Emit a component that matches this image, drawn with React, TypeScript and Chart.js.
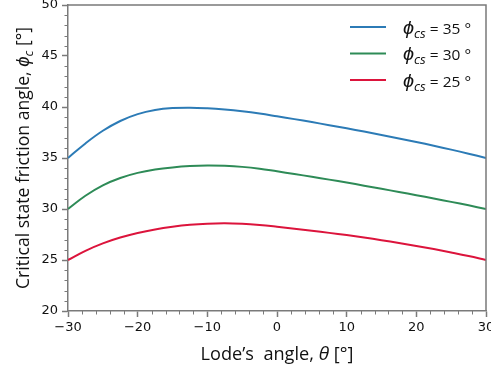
import React, { useEffect, useRef } from "react";
import { Chart, registerables } from "chart.js";

Chart.register(...registerables);

// Lode's angle (degrees)
const thetaDeg = [-30, -27.5, -25, -22.5, -20, -17.5, -15, -12.5, -10, -7.5, -5, -2.5, 0, 2.5, 5, 7.5, 10, 12.5, 15, 17.5, 20, 22.5, 25, 27.5, 30];
// Critical state friction angle (degrees)
const phiCs35 = [35.0, 36.43, 37.67, 38.63, 39.3, 39.7, 39.89, 39.93, 39.87, 39.75, 39.58, 39.36, 39.09, 38.81, 38.52, 38.22, 37.91, 37.59, 37.26, 36.92, 36.57, 36.2, 35.82, 35.42, 35.0];
const phiCs30 = [30.0, 31.3, 32.32, 33.04, 33.54, 33.87, 34.08, 34.21, 34.26, 34.23, 34.13, 33.95, 33.69, 33.43, 33.16, 32.88, 32.59, 32.29, 31.98, 31.67, 31.35, 31.03, 30.7, 30.36, 30.0];
const phiCs25 = [25.0, 25.9, 26.63, 27.2, 27.65, 28.0, 28.26, 28.45, 28.56, 28.6, 28.55, 28.43, 28.26, 28.07, 27.87, 27.66, 27.44, 27.2, 26.94, 26.67, 26.38, 26.07, 25.74, 25.39, 25.0];

const seriesValues = [phiCs35, phiCs30, phiCs25];
const seriesNames = ["35", "30", "25"];
const seriesColors = ["#2c7bb6", "#2e8b57", "#dc143c"];

const xMin = -30, xMax = 30, xStep = 10, xMinorStep = 2;
const yMin = 20, yMax = 50, yStep = 5, yMinorStep = 1;

const AXIS_COLOR = "#7a7a7a";
const TEXT_COLOR = "#111111";
const TICK_FONT = "DejaVu Sans";
const TITLE_FONT = '"Open Sans", sans-serif';

type Run = { t: string; f: string; dy?: number };

function drawRuns(ctx: CanvasRenderingContext2D, runs: Run[], x: number, y: number, align: "left" | "center", targetW?: number) {
  ctx.save();
  let w = 0;
  const ws = runs.map((r) => {
    ctx.font = r.f;
    const m = ctx.measureText(r.t).width;
    w += m;
    return m;
  });
  ctx.translate(x, y);
  if (targetW) ctx.scale(targetW / w, 1);
  let cx = align === "center" ? -w / 2 : 0;
  ctx.textAlign = "left";
  ctx.textBaseline = "alphabetic";
  ctx.fillStyle = TEXT_COLOR;
  runs.forEach((r, i) => {
    ctx.font = r.f;
    ctx.fillText(r.t, cx, r.dy || 0);
    cx += ws[i];
  });
  ctx.restore();
}

const overlayPlugin = {
  id: "overlay",
  afterDraw(chart: any) {
    const ctx: CanvasRenderingContext2D = chart.ctx;
    const { left, right, top, bottom } = chart.chartArea;
    const xs = chart.scales.x;
    const ys = chart.scales.y;
    ctx.save();
    // top & right frame
    ctx.strokeStyle = AXIS_COLOR;
    ctx.lineWidth = 1.5;
    ctx.beginPath();
    ctx.moveTo(left, top);
    ctx.lineTo(right, top);
    ctx.lineTo(right, bottom);
    ctx.stroke();
    // minor ticks
    ctx.lineWidth = 1;
    ctx.beginPath();
    for (let v = yMin; v <= yMax; v += yMinorStep) {
      if (v % yStep === 0) continue;
      const p = Math.round(ys.getPixelForValue(v)) + 0.5;
      ctx.moveTo(left - 3.5, p);
      ctx.lineTo(left, p);
    }
    for (let v = xMin; v <= xMax; v += xMinorStep) {
      if (v % xStep === 0) continue;
      const p = Math.round(xs.getPixelForValue(v)) + 0.5;
      ctx.moveTo(p, bottom);
      ctx.lineTo(p, bottom + 3.5);
    }
    ctx.stroke();
    ctx.restore();

    // x title
    drawRuns(
      ctx,
      [
        { t: "Lode\u2019s  angle, ", f: `18px ${TITLE_FONT}` },
        { t: "\u03B8", f: `italic 19px ${TITLE_FONT}` },
        { t: " [\u00B0]", f: `18px ${TITLE_FONT}` },
      ],
      (left + right) / 2,
      360,
      "center",
      153
    );

    // y title
    ctx.save();
    ctx.translate(29, (top + bottom) / 2);
    ctx.rotate(-Math.PI / 2);
    drawRuns(
      ctx,
      [
        { t: "Critical state friction angle, ", f: `18px ${TITLE_FONT}` },
        { t: "\u03D5", f: `italic 19px ${TITLE_FONT}` },
        { t: "c", f: `italic 13px ${TITLE_FONT}`, dy: 4 },
        { t: " [\u00B0]", f: `18px ${TITLE_FONT}` },
      ],
      0,
      0,
      "center",
      262
    );
    ctx.restore();

    // legend
    seriesNames.forEach((name, i) => {
      const ly = top + 22 + i * 26.5;
      ctx.save();
      ctx.strokeStyle = seriesColors[i];
      ctx.lineWidth = 2;
      ctx.beginPath();
      ctx.moveTo(right - 136, ly);
      ctx.lineTo(right - 100, ly);
      ctx.stroke();
      ctx.restore();
      drawRuns(
        ctx,
        [
          { t: "\u03D5", f: `italic 18px ${TITLE_FONT}` },
          { t: "cs", f: `italic 12px ${TITLE_FONT}`, dy: 4 },
          { t: ` = ${name} \u00B0`, f: `14px ${TITLE_FONT}` },
        ],
        right - 83,
        ly + 6.5,
        "left",
        68
      );
    });
  },
};

const fmt = (v: any) => {
  const n = Number(v);
  return n < 0 ? "\u2212" + Math.abs(n) : String(n);
};

export default function App() {
  const ref = useRef<HTMLCanvasElement | null>(null);
  useEffect(() => {
    document.body.style.margin = "0";
    if (!ref.current) return;
    const chart = new Chart(ref.current, {
      type: "line",
      data: {
        datasets: seriesValues.map((vals, i) => ({
          label: seriesNames[i],
          data: thetaDeg.map((t, j) => ({ x: t, y: vals[j] })),
          borderColor: seriesColors[i],
          backgroundColor: seriesColors[i],
          borderWidth: 2,
          pointRadius: 0,
          fill: false,
          tension: 0.4,
        })),
      },
      options: {
        responsive: false,
        animation: false,
        devicePixelRatio: 1,
        layout: { padding: { top: 5, right: 5, left: 0, bottom: 0 } },
        plugins: { legend: { display: false }, tooltip: { enabled: false } },
        scales: {
          x: {
            type: "linear",
            min: xMin,
            max: xMax,
            ticks: {
              stepSize: xStep,
              color: TEXT_COLOR,
              font: { family: TICK_FONT, size: 13 },
              padding: 3,
              maxRotation: 0,
              callback: fmt,
            },
            grid: { drawOnChartArea: false, tickLength: 6, tickColor: AXIS_COLOR, tickWidth: 1.5 },
            border: { color: AXIS_COLOR, width: 1.5 },
            afterFit: (s: any) => {
              s.height = 63;
              s.paddingLeft = 0;
              s.paddingRight = 0;
            },
          },
          y: {
            type: "linear",
            min: yMin,
            max: yMax,
            ticks: {
              stepSize: yStep,
              color: TEXT_COLOR,
              font: { family: TICK_FONT, size: 13 },
              padding: 4,
              callback: fmt,
            },
            grid: { drawOnChartArea: false, tickLength: 6, tickColor: AXIS_COLOR, tickWidth: 1.5 },
            border: { color: AXIS_COLOR, width: 1.5 },
            afterFit: (s: any) => {
              s.width = 68;
              s.paddingTop = 0;
              s.paddingBottom = 0;
            },
          },
        },
      },
      plugins: [overlayPlugin],
    });
    return () => chart.destroy();
  }, []);
  return <canvas ref={ref} width={491} height={374} style={{ display: "block" }} />;
}
